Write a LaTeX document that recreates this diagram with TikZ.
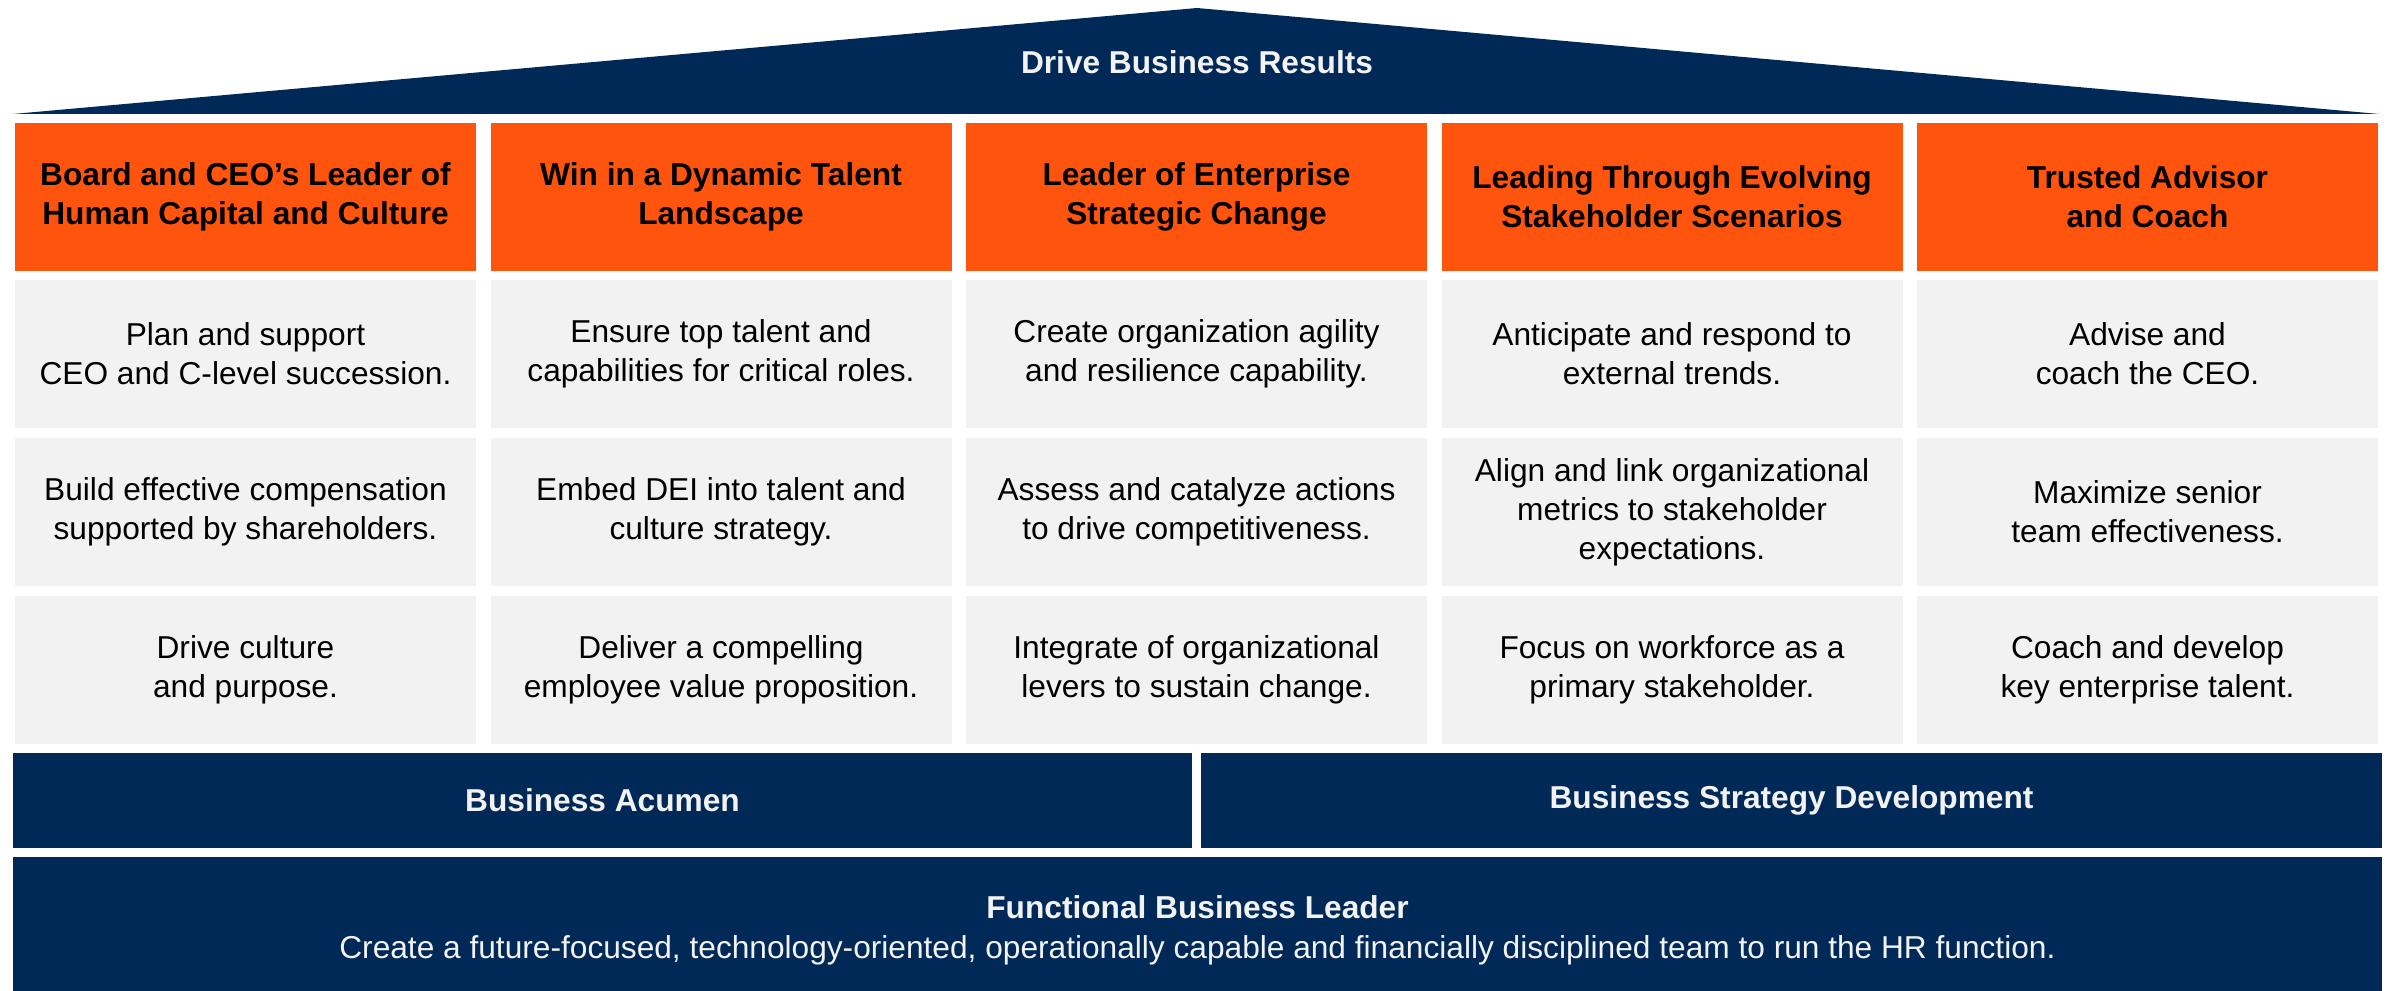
\documentclass[tikz,border=0pt]{standalone}
\usepackage{fontspec}
\setmainfont{Liberation Sans}
\definecolor{navy}{RGB}{0,41,87}
\definecolor{orng}{RGB}{255,84,13}
\definecolor{cell}{RGB}{242,242,242}
\definecolor{lighttxt}{RGB}{242,242,242}
\begin{document}
\begin{tikzpicture}[x=0.3pt,y=-0.3pt,
  base/.style={inner sep=0pt, align=center, font=\fontsize{9.5}{11.7}\selectfont},
  hdr/.style={base, fill=orng, text=black, minimum width=138.3pt, minimum height=44.4pt, font=\fontsize{9.5}{11.7}\selectfont\bfseries},
  cellbox/.style={base, fill=cell, text=black, minimum width=138.3pt, minimum height=44.4pt},
  bar/.style={base, fill=navy, text=lighttxt, minimum height=28.5pt},
]
\useasboundingbox (0,0) rectangle (2397,991);
% roof
\fill[navy] (13,114) -- (1197,8) -- (2379,114) -- cycle;
\node[base, text=lighttxt, font=\fontsize{9.5}{11.7}\selectfont\bfseries] (roof) at (1197,62) {Drive Business Results};
% headers
\node[hdr] (h1) at (245.5,197) {Board and CEO’s Leader of\\Human Capital and Culture};
\node[hdr] (h2) at (721,197) {Win in a Dynamic Talent\\Landscape};
\node[hdr] (h3) at (1196.5,197) {Leader of Enterprise\\Strategic Change};
\node[hdr] (h4) at (1672,197) {Leading Through Evolving\\Stakeholder Scenarios};
\node[hdr] (h5) at (2147.5,197) {Trusted Advisor\\and Coach};
% row 1
\node[cellbox] (c11) at (245.5,354) {Plan and support\\CEO and C-level succession.};
\node[cellbox] (c21) at (721,354) {Ensure top talent and\\capabilities for critical roles.};
\node[cellbox] (c31) at (1196.5,354) {Create organization agility\\and resilience capability.};
\node[cellbox] (c41) at (1672,354) {Anticipate and respond to\\external trends.};
\node[cellbox] (c51) at (2147.5,354) {Advise and\\coach the CEO.};
% row 2
\node[cellbox] (c12) at (245.5,512) {Build effective compensation\\supported by shareholders.};
\node[cellbox] (c22) at (721,512) {Embed DEI into talent and\\culture strategy.};
\node[cellbox] (c32) at (1196.5,512) {Assess and catalyze actions\\to drive competitiveness.};
\node[cellbox] (c42) at (1672,512) {Align and link organizational\\metrics to stakeholder\\expectations.};
\node[cellbox] (c52) at (2147.5,512) {Maximize senior\\team effectiveness.};
% row 3
\node[cellbox] (c13) at (245.5,670) {Drive culture\\and purpose.};
\node[cellbox] (c23) at (721,670) {Deliver a compelling\\employee value proposition.};
\node[cellbox] (c33) at (1196.5,670) {Integrate of organizational\\levers to sustain change.};
\node[cellbox] (c43) at (1672,670) {Focus on workforce as a\\primary stakeholder.};
\node[cellbox] (c53) at (2147.5,670) {Coach and develop\\key enterprise talent.};
% bars
\node[bar, minimum width=353.7pt] (ba) at (602.5,800.5) {\bfseries Business Acumen};
\node[bar, minimum width=354.3pt] (bsd) at (1791.5,800.5) {\bfseries Business Strategy Development};
\fill[navy] (13,857) rectangle (2382,991);
\node[base, text=lighttxt, font=\fontsize{9.5}{12}\selectfont] (fbl) at (1197.5,930) {{\bfseries Functional Business Leader}\\Create a future-focused, technology-oriented, operationally capable and financially disciplined team to run the HR function.};
\end{tikzpicture}
\end{document}
